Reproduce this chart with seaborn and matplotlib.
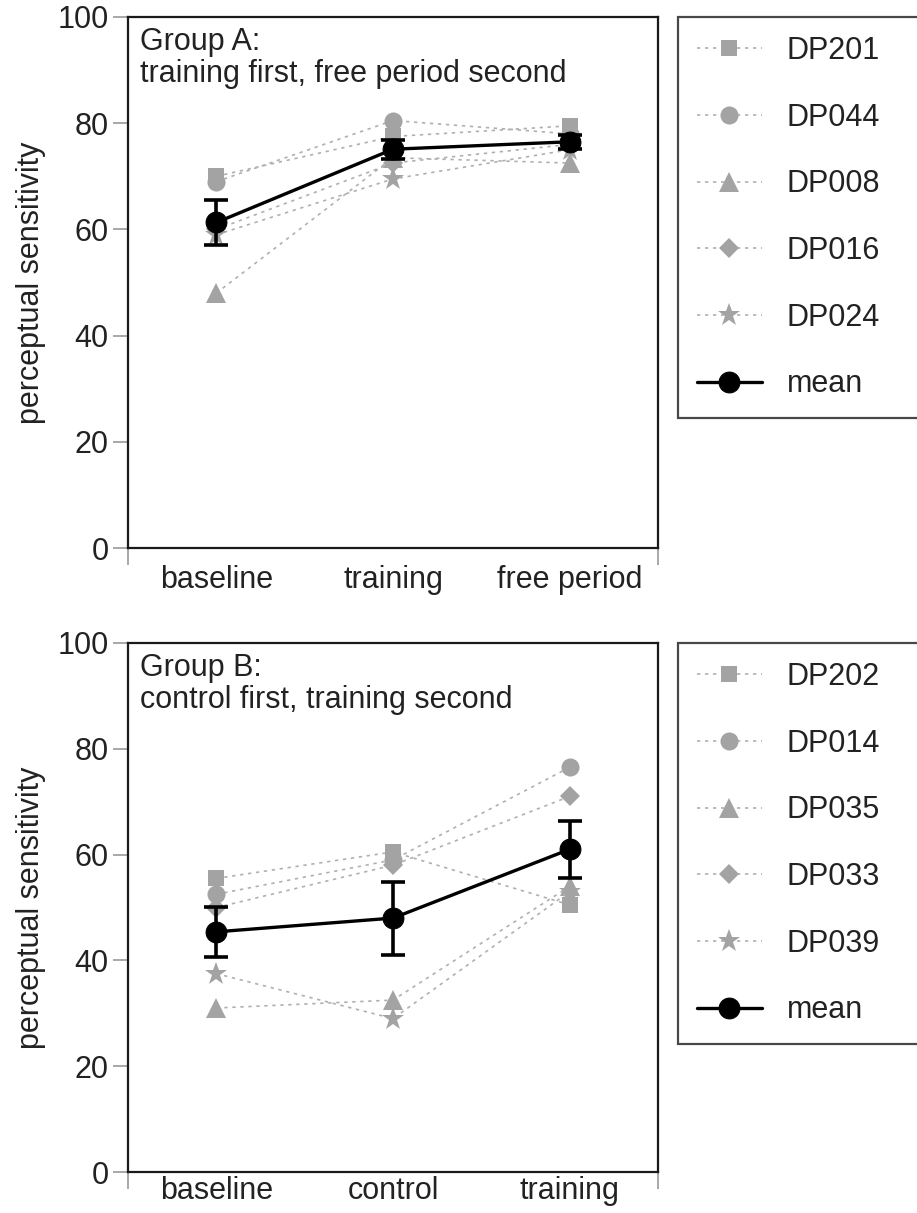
import numpy as np
import pandas as pd
import matplotlib
matplotlib.use("Agg")
import matplotlib.pyplot as plt
import seaborn as sns

# ---- data ----
phases_a = ["baseline", "training", "free period"]
phases_b = ["baseline", "control", "training"]

subjects_a = ["DP201", "DP044", "DP008", "DP016", "DP024"]
subjects_b = ["DP202", "DP014", "DP035", "DP033", "DP039"]

# one row per subject, one column per phase
values_a = [
    [70.0, 77.5, 79.5],
    [69.0, 80.5, 78.0],
    [48.0, 73.5, 72.5],
    [60.0, 72.5, 76.0],
    [59.0, 69.5, 75.0],
]
values_b = [
    [55.5, 60.5, 50.5],
    [52.5, 59.0, 76.5],
    [31.0, 32.5, 54.0],
    [50.0, 58.0, 71.0],
    [37.5, 29.0, 53.0],
]

mean_a = [61.3, 75.1, 76.5]
sem_a = [4.3, 1.8, 1.3]
mean_b = [45.4, 48.0, 61.0]
sem_b = [4.7, 6.9, 5.4]

titles = ["Group A:\ntraining first, free period second",
          "Group B:\ncontrol first, training second"]

# marker per subject position, with sizes tuned per shape
markers = ["s", "o", "^", "D", "*"]
marker_sizes = [12, 13, 14, 10, 17]

GRAY = "#a3a3a3"
LINE_GRAY = "#b0b0b0"
TXT = "#222222"
FS = 22

sns.set_theme(style="white")
plt.rcParams["font.family"] = ["Liberation Sans", "DejaVu Sans"]
plt.rcParams["font.size"] = FS


def draw_panel(ax, phases, subjects, values, mean, sem, title, leg_top,
               xpad):
    x = np.arange(len(phases))
    for subj, vals, mk, ms in zip(subjects, values, markers, marker_sizes):
        df = pd.DataFrame({"pos": x, "value": vals})
        sns.lineplot(
            data=df, x="pos", y="value", ax=ax, sort=False,
            color=LINE_GRAY, linewidth=1.2, dashes=False,
            linestyle=(0, (2.0, 2.8)),
            marker=mk, markersize=ms, markerfacecolor=GRAY,
            markeredgecolor=GRAY, markeredgewidth=0,
            label=subj, zorder=2,
        )

    # group mean with standard error bars
    ax.errorbar(x, mean, yerr=sem, fmt="none", ecolor="black",
                elinewidth=2.6, capsize=8.5, capthick=2.6, zorder=3)
    sns.lineplot(x=x, y=mean, ax=ax, sort=False, color="black",
                 linewidth=2.4, marker="o", markersize=15,
                 markeredgecolor="black", label="mean", zorder=4)

    ax.set_xlim(-0.5, len(phases) - 0.5)
    ax.set_ylim(0, 100)
    ax.set_yticks([0, 20, 40, 60, 80, 100])
    ax.set_xticks(x)
    ax.set_xticklabels(phases)
    ax.set_xticks([-0.5, len(phases) - 0.5], minor=True)
    ax.tick_params(axis="x", which="major", length=0, pad=xpad,
                   labelsize=FS, labelcolor=TXT)
    ax.tick_params(axis="x", which="minor", length=12, width=1.2,
                   color="#999999", direction="out", bottom=True)
    ax.tick_params(axis="y", length=11, width=1.2, color="#999999",
                   direction="out", left=True, labelsize=FS,
                   labelcolor=TXT, pad=3)
    ax.set_xlabel("")
    ax.set_ylabel("perceptual sensitivity", fontsize=FS, labelpad=8,
                  color=TXT)
    for sp in ax.spines.values():
        sp.set_color("#1a1a1a")
        sp.set_linewidth(1.6)
        sp.set_visible(True)

    ax.text(0.022, 0.982, title, transform=ax.transAxes, ha="left",
            va="top", fontsize=FS, color=TXT, linespacing=1.12)

    leg = ax.legend(
        loc="upper left", bbox_to_anchor=(678 / 917, leg_top, 0.3, 0.0),
        bbox_transform=ax.figure.transFigure, mode="expand",
        borderaxespad=0, frameon=True, fancybox=False, fontsize=FS,
        labelspacing=1.2, borderpad=0.62, handlelength=2.12,
        handletextpad=0.82,
    )
    leg.get_frame().set_edgecolor("#1a1a1a")
    leg.get_frame().set_linewidth(1.6)
    for txt in leg.get_texts():
        txt.set_color(TXT)


fig = plt.figure(figsize=(9.17, 12.13), dpi=100)
ax_a = fig.add_axes([128 / 917, 1 - 548 / 1213, 530 / 917, 531 / 1213])
ax_b = fig.add_axes([128 / 917, 1 - 1172 / 1213, 530 / 917, 529 / 1213])

draw_panel(ax_a, phases_a, subjects_a, values_a, mean_a, sem_a, titles[0],
           1 - 17 / 1213, 12)
draw_panel(ax_b, phases_b, subjects_b, values_b, mean_b, sem_b, titles[1],
           1 - 643 / 1213, 3)

fig.savefig("out.png", dpi=100)
